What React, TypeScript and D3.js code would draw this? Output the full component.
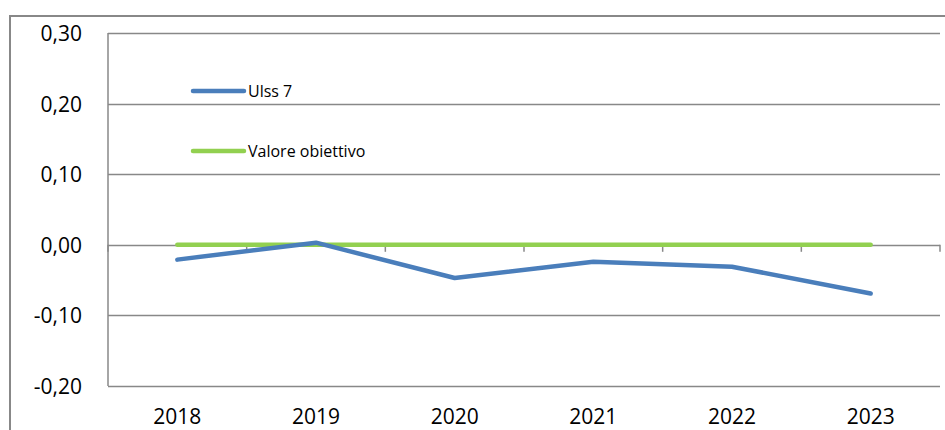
import React, { useEffect, useRef } from 'react';
import * as d3 from 'd3';

const years = ['2018', '2019', '2020', '2021', '2022', '2023'];
const ulss7 = [-0.021, 0.003, -0.047, -0.024, -0.031, -0.069];
const target = [0, 0, 0, 0, 0, 0];
const yTicks = [-0.2, -0.1, 0, 0.1, 0.2, 0.3];

const W = 945;
const H = 430;
const FONT = "'Open Sans', sans-serif";

const App = () => {
  const svgRef = useRef<SVGSVGElement>(null);

  useEffect(() => {
    const svg = d3.select(svgRef.current);
    svg.selectAll('*').remove();

    const left = 108;
    const right = 940;
    const top = 33;
    const bottom = 386;

    // outer chart border
    svg.append('rect')
      .attr('x', 10).attr('y', 16)
      .attr('width', W).attr('height', H)
      .attr('fill', 'none').attr('stroke', '#888').attr('stroke-width', 2);

    const x = d3.scaleBand().domain(years).range([left, right]);
    const y = d3.scaleLinear().domain([-0.2, 0.3]).range([bottom, top]);
    const fmt = (v: number) => d3.format('.2f')(v).replace('.', ',').replace('−', '-');

    // gridlines
    svg.append('g').selectAll('line').data(yTicks).enter().append('line')
      .attr('x1', left).attr('x2', right)
      .attr('y1', (d) => Math.round(y(d)) + 0.5).attr('y2', (d) => Math.round(y(d)) + 0.5)
      .attr('stroke', '#888').attr('stroke-width', 1.5);

    // y axis line
    svg.append('line')
      .attr('x1', left).attr('x2', left).attr('y1', top).attr('y2', bottom)
      .attr('stroke', '#888').attr('stroke-width', 1.5);

    // y tick labels
    svg.append('g').selectAll('text').data(yTicks).enter().append('text')
      .attr('x', 82).attr('y', (d) => y(d) + 8)
      .attr('text-anchor', 'end')
      .attr('font-family', FONT).attr('font-size', 21).attr('fill', '#000')
      .text(fmt);

    // category ticks at zero line
    const bounds = years.map((yr) => x(yr) as number).concat([right]);
    svg.append('g').selectAll('line').data(bounds).enter().append('line')
      .attr('x1', (d) => d).attr('x2', (d) => d)
      .attr('y1', y(0)).attr('y2', y(0) + 7)
      .attr('stroke', '#888').attr('stroke-width', 1.5);

    // category labels
    svg.append('g').selectAll('text').data(years).enter().append('text')
      .attr('x', (d) => (x(d) as number) + x.bandwidth() / 2)
      .attr('y', 424)
      .attr('text-anchor', 'middle')
      .attr('font-family', FONT).attr('font-size', 21).attr('fill', '#000')
      .text((d) => d);

    const line = d3.line<number>()
      .x((_, i) => (x(years[i]) as number) + x.bandwidth() / 2)
      .y((d) => y(d));

    svg.append('path').datum(target)
      .attr('d', line).attr('fill', 'none')
      .attr('stroke', '#92d050').attr('stroke-width', 4.5).attr('stroke-linecap', 'round');

    svg.append('path').datum(ulss7)
      .attr('d', line).attr('fill', 'none')
      .attr('stroke', '#4a7ebb').attr('stroke-width', 4.5)
      .attr('stroke-linecap', 'round').attr('stroke-linejoin', 'round');

    // legend
    const legend = [
      { label: 'Ulss 7', color: '#4a7ebb', y: 91 },
      { label: 'Valore obiettivo', color: '#92d050', y: 151 },
    ];
    const lg = svg.append('g').selectAll('g').data(legend).enter().append('g');
    lg.append('line')
      .attr('x1', 193).attr('x2', 244)
      .attr('y1', (d) => d.y).attr('y2', (d) => d.y)
      .attr('stroke', (d) => d.color).attr('stroke-width', 4.5).attr('stroke-linecap', 'round');
    lg.append('text')
      .attr('x', 248).attr('y', (d) => d.y + 6)
      .attr('font-family', FONT).attr('font-size', 16).attr('fill', '#000')
      .text((d) => d.label);
  }, []);

  return (
    <svg
      ref={svgRef}
      width={W}
      height={H}
      style={{ position: 'absolute', left: 0, top: 0, background: '#fff' }}
    />
  );
};

export default App;
